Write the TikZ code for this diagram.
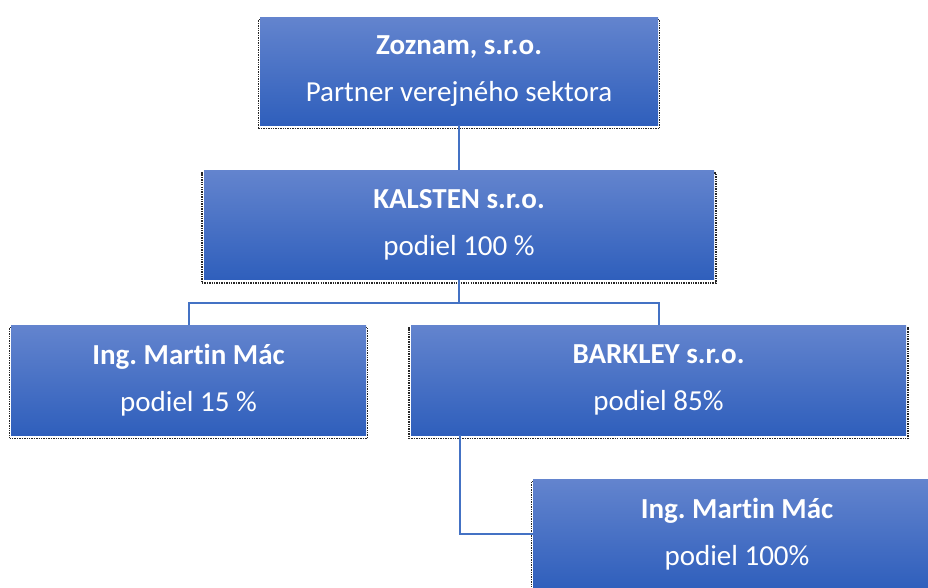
\documentclass[tikz,border=0pt]{standalone}
\usepackage{fontspec}
\setmainfont{Carlito}[Ligatures=NoCommon]
\usepackage{tikz}
\usetikzlibrary{shadows}
\usetikzlibrary{positioning}
\frenchspacing

\definecolor{boxtop}{RGB}{99,132,206}
\definecolor{boxmid}{RGB}{68,114,198}
\definecolor{boxbot}{RGB}{47,95,188}
\definecolor{linkblue}{RGB}{68,114,196}

\tikzset{
  firm/.style={rectangle, minimum height=110pt, inner sep=2pt, text=white, align=center,
    font=\fontsize{29}{47}\selectfont,
    top color=boxtop, middle color=boxmid, bottom color=boxbot,
    general shadow={fill=none, draw=black!85, densely dotted, line width=1.4pt,
      shadow xshift=0pt, shadow yshift=-3pt, shadow scale=1.008}},
  link/.style={draw=linkblue, line width=2pt}
}

\begin{document}
\begin{tikzpicture}[x=1pt, y=1pt]
\useasboundingbox (0,0) rectangle (928,-587);
\node[firm, minimum width=398pt, minimum height=108pt] (zoznam) at (459,-71) {\textbf{Zoznam, s.r.o.}\\Partner verejného sektora};
\node[firm, minimum width=510pt, minimum height=109pt] (kalsten) [below=45pt of zoznam] {\textbf{KALSTEN s.r.o.}\\podiel 100 \%};
\node[firm, minimum width=355pt] (mac1) at (188.5,-380) {\textbf{Ing. Martin Mác}\\podiel 15 \%};
\node[firm, minimum width=495pt] (barkley) at (658.5,-380) {\textbf{BARKLEY s.r.o.}\\podiel 85\%};
\node[firm, minimum width=408pt] (mac2) at (737,-534) {\textbf{Ing. Martin Mác}\\podiel 100\%};
\coordinate (split) at ([yshift=-23pt]kalsten.south);
\coordinate (bjoin) at ([xshift=49pt]barkley.south west);
% spojnice
\draw[link] (zoznam) -- (kalsten);
\draw[link] (kalsten.south) -- (split) -| (mac1.north);
\draw[link] (split) -| (barkley.north);
\draw[link] (bjoin) |- (mac2.west);
\end{tikzpicture}
\end{document}
